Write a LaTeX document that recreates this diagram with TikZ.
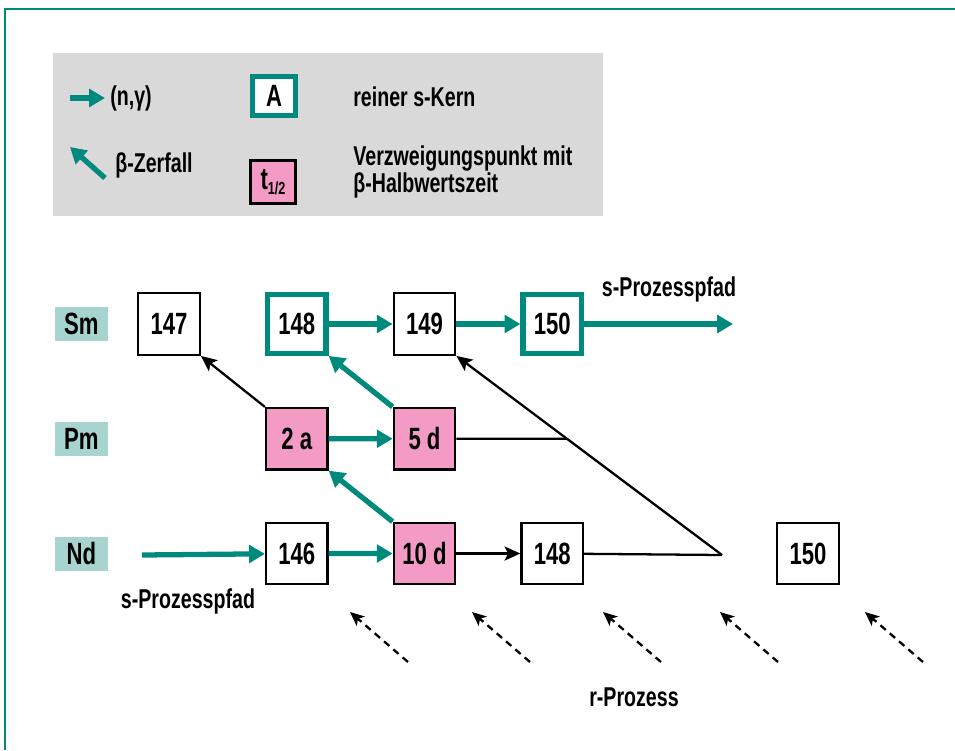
\documentclass[tikz,border=0pt]{standalone}
\usepackage{fontspec}
\setmainfont[FakeStretch=0.72]{Liberation Sans}
\usetikzlibrary{arrows.meta, positioning, calc}
\definecolor{tealline}{RGB}{0,138,126}
\definecolor{halfpink}{RGB}{243,155,196}
\definecolor{elemfill}{RGB}{168,212,208}
\definecolor{legendgray}{RGB}{217,217,217}

\begin{document}
\begin{tikzpicture}[x=0.02cm, y=-0.02cm, >=Stealth, node distance=1.02cm and 1.28cm]
        % Styles
        \tikzset{
            nucbox/.style={draw=black, fill=white, line width=1.3pt, minimum size=1.23cm, inner sep=0pt, font=\fontsize{17.5}{18}\selectfont\bfseries},
            pureblock/.style={nucbox, draw=tealline, line width=3pt, minimum size=1.17cm},
            branchblock/.style={nucbox, fill=halfpink},
            elemblock/.style={fill=elemfill, minimum width=1.06cm, minimum height=0.68cm, inner sep=0pt, font=\fontsize{17.5}{18}\selectfont\bfseries},
            txt/.style={font=\fontsize{15.5}{14.5}\selectfont\bfseries, inner sep=0pt},
            ngamma/.style={draw=tealline, line width=3pt, -{Triangle[length=9pt, width=10pt]}},
            betadecay/.style={draw=tealline, line width=3pt, -{Triangle[length=9pt, width=10pt]}},
            blackarrow/.style={draw=black, line width=1.3pt, -{Stealth[length=9pt, width=8pt, inset=2pt]}},
            blackline/.style={draw=black, line width=1.3pt},
            rarrow/.style={draw=black, line width=1.3pt, dash pattern=on 4pt off 3pt, -{Stealth[length=8pt, width=7pt, inset=2pt]}}
        }
        \useasboundingbox (0,0) rectangle (955,750);

        % Frame
        \draw[tealline, line width=1.5pt] (5,750) -- (5,9) -- (955,9);

        % Legend
        \node[fill=legendgray, minimum width=11cm, minimum height=3.26cm] (legend) at (328,134.5) {};
        \coordinate (ngs) at (70,98);
        \coordinate (nge) at (105,98);
        \draw[ngamma] (ngs) -- (nge);
        \node[txt, anchor=west] (ngtext) at (110,98) {(n,γ)};
        \coordinate (bts) at (105,178);
        \coordinate (bte) at (70,147);
        \draw[betadecay] (bts) -- (bte);
        \node[txt, anchor=west] (bttext) at (115,165) {β-Zerfall};
        \node[pureblock, minimum width=0.85cm, minimum height=0.78cm] (keyA) at (274,96) {A};
        \node[branchblock, minimum width=0.9cm, minimum height=0.86cm] (keyT) at (273,182) {t\raisebox{-0.35ex}{\fontsize{10}{10}\selectfont 1/2}};
        \node[txt, anchor=west] (keyAtext) at (353,97) {reiner s-Kern};
        \node[txt, anchor=west, align=left] (keyTtext) at (353,172) {Verzweigungspunkt mit\\β-Halbwertszeit};

        % Sm row
        \node[nucbox] (sm147) at (169,324) {147};
        \node[pureblock, right=of sm147] (sm148) {148};
        \node[nucbox, right=of sm148] (sm149) {149};
        \node[pureblock, right=of sm149] (sm150) {150};
        \node[elemblock, left=0.58cm of sm147] (sm) {Sm};

        % Pm row
        \node[branchblock, below=of sm148] (pm147) {2 a};
        \node[branchblock, below=of sm149] (pm148) {5 d};
        \node[elemblock] (pm) at (sm |- pm147) {Pm};

        % Nd row
        \node[nucbox, below=of pm147] (nd146) {146};
        \node[branchblock, below=of pm148] (nd147) {10 d};
        \node[nucbox, right=of nd147] (nd148) {148};
        \node[nucbox, right=3.84cm of nd148] (nd150) {150};
        \node[elemblock] (nd) at (sm |- nd146) {Nd};

        % Labels
        \node[txt] (stop) at (669,289) {s-Prozesspfad};
        \node[txt] (sbottom) at (188,601) {s-Prozesspfad};
        \node[txt] (rlabel) at (634,697) {r-Prozess};

        % Free ends
        \coordinate (sstart) at (142,555);
        \coordinate (send) at (733,324);
        \coordinate (rjoin) at (722,555);
        \coordinate (pmcut) at (intersection of pm148.west--pm148.east and rjoin--sm149.south east);

        % s-process arrows
        \draw[ngamma] (sstart) -- (nd146);
        \draw[ngamma] (nd146) -- (nd147);
        \draw[ngamma] (pm147) -- (pm148);
        \draw[ngamma] (sm148) -- (sm149);
        \draw[ngamma] (sm149) -- (sm150);
        \draw[ngamma] (sm150) -- (send);
        \draw[betadecay] (nd147.north west) -- (pm147.south east);
        \draw[betadecay] (pm148.north west) -- (sm148.south east);

        % Other branches
        \draw[blackarrow] (nd147) -- (nd148);
        \draw[blackarrow] (pm147.north west) -- (sm147.south east);
        \draw[blackline] (nd148) -- (rjoin);
        \draw[blackarrow] (rjoin) -- (sm149.south east);
        \draw[blackline] (pm148) -- (pmcut);

        % r-process
        \foreach \x [count=\i] in {350,472,603,720,865} {
            \coordinate (rtip\i) at (\x,612);
            \coordinate (rtail\i) at (\x+58,662);
            \draw[rarrow] (rtail\i) -- (rtip\i);
        }
    \end{tikzpicture}
\end{document}
